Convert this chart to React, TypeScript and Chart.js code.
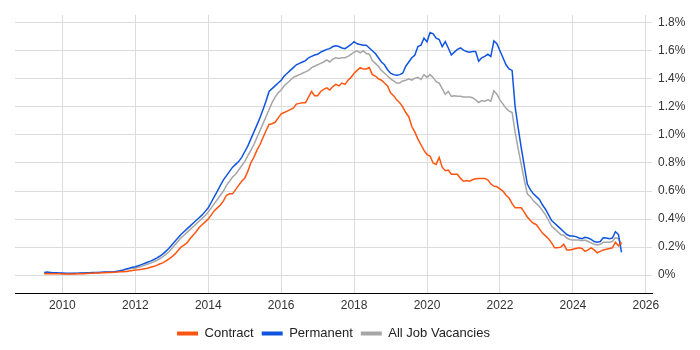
import React, { useEffect, useRef } from "react";
import { Chart, registerables } from "chart.js";

Chart.register(...registerables);

// Monthly observations, Jul 2009 .. May 2025
const startYear = 2009.5;

const contract = [
  // 2009 (Jul-Dec)
  0.01, 0.012, 0.011, 0.01, 0.01, 0.01,
  // 2010
  0.008, 0.008, 0.008, 0.009, 0.009, 0.01, 0.01, 0.011, 0.012, 0.013, 0.014, 0.015,
  // 2011
  0.016, 0.017, 0.018, 0.019, 0.02, 0.021, 0.022, 0.024, 0.025, 0.027, 0.03, 0.033,
  // 2012
  0.037, 0.039, 0.042, 0.046, 0.05, 0.056, 0.062, 0.07, 0.08, 0.088, 0.1, 0.115,
  // 2013
  0.13, 0.15, 0.175, 0.2, 0.215, 0.23, 0.26, 0.285, 0.31, 0.34, 0.36, 0.38,
  // 2014
  0.4, 0.43, 0.46, 0.48, 0.5, 0.53, 0.57, 0.58, 0.58, 0.61, 0.64, 0.67,
  // 2015
  0.69, 0.74, 0.8, 0.84, 0.89, 0.93, 0.98, 1.03, 1.075, 1.08, 1.09, 1.12,
  // 2016
  1.15, 1.16, 1.17, 1.18, 1.19, 1.22, 1.225, 1.23, 1.23, 1.27, 1.31, 1.28,
  // 2017
  1.28, 1.31, 1.325, 1.335, 1.32, 1.345, 1.36, 1.35, 1.37, 1.36, 1.39, 1.41,
  // 2018
  1.44, 1.46, 1.48, 1.47, 1.47, 1.48, 1.43, 1.42, 1.4, 1.39, 1.37, 1.35,
  // 2019
  1.3, 1.28, 1.25, 1.23, 1.2, 1.16, 1.13, 1.06, 1.02, 0.97, 0.93, 0.89,
  // 2020
  0.86, 0.85, 0.8, 0.79, 0.84, 0.77, 0.745, 0.75, 0.72, 0.72, 0.72, 0.69,
  // 2021
  0.67, 0.675, 0.67, 0.68, 0.687, 0.69, 0.69, 0.69, 0.68, 0.65, 0.635, 0.63,
  // 2022
  0.615, 0.6, 0.57, 0.55, 0.51, 0.48, 0.48, 0.48, 0.45, 0.415, 0.39, 0.37,
  // 2023
  0.36, 0.33, 0.3, 0.28, 0.26, 0.23, 0.195, 0.195, 0.2, 0.22, 0.18, 0.18,
  // 2024
  0.185, 0.19, 0.195, 0.19, 0.17, 0.18, 0.195, 0.18, 0.16, 0.17, 0.18, 0.185,
  // 2025 (Jan-May)
  0.19, 0.195, 0.235, 0.21, 0.235,
];

const permanent = [
  0.02, 0.022, 0.02, 0.018, 0.017, 0.016,
  0.015, 0.014, 0.013, 0.013, 0.013, 0.014, 0.015, 0.016, 0.017, 0.018, 0.019, 0.02,
  0.02, 0.021, 0.022, 0.022, 0.023, 0.025, 0.028, 0.032, 0.038, 0.045, 0.05, 0.056,
  0.06, 0.067, 0.075, 0.083, 0.092, 0.1, 0.11, 0.122, 0.135, 0.15, 0.17, 0.19,
  0.215, 0.24, 0.265, 0.29, 0.31, 0.33, 0.35, 0.37, 0.39, 0.41, 0.43, 0.455,
  0.48, 0.52, 0.56, 0.6, 0.64, 0.68, 0.71, 0.74, 0.77, 0.79, 0.81, 0.84,
  0.88, 0.92, 0.97, 1.02, 1.07, 1.12, 1.18, 1.24, 1.31, 1.33, 1.35, 1.37,
  1.39, 1.42, 1.44, 1.46, 1.48, 1.5, 1.51, 1.52, 1.53, 1.55, 1.56, 1.57,
  1.575, 1.59, 1.6, 1.61, 1.615, 1.63, 1.635, 1.63, 1.62, 1.615, 1.63, 1.645,
  1.665, 1.65, 1.645, 1.64, 1.64, 1.62, 1.6, 1.58, 1.55, 1.52, 1.5, 1.465,
  1.44, 1.43, 1.425, 1.43, 1.44, 1.49, 1.52, 1.55, 1.57, 1.63, 1.64, 1.69,
  1.665, 1.73, 1.72, 1.69, 1.68, 1.63, 1.665, 1.62, 1.57, 1.59, 1.61, 1.62,
  1.605, 1.595, 1.59, 1.595, 1.595, 1.525, 1.55, 1.56, 1.575, 1.56, 1.67, 1.65,
  1.6, 1.55, 1.5, 1.47, 1.46, 1.2, 1.05, 0.91, 0.78, 0.65, 0.61, 0.58,
  0.56, 0.54, 0.5, 0.47, 0.43, 0.39, 0.37, 0.35, 0.33, 0.31, 0.29, 0.28,
  0.28, 0.275, 0.265, 0.26, 0.27, 0.265, 0.255, 0.24, 0.235, 0.24, 0.267, 0.265,
  0.26, 0.265, 0.31, 0.29, 0.163,
];

const allJobs = [
  0.015, 0.017, 0.016, 0.015, 0.014, 0.013,
  0.012, 0.011, 0.011, 0.011, 0.012, 0.012, 0.013, 0.014, 0.015, 0.016, 0.017, 0.018,
  0.019, 0.02, 0.021, 0.021, 0.022, 0.024, 0.026, 0.03, 0.034, 0.04, 0.045, 0.05,
  0.05, 0.056, 0.063, 0.07, 0.078, 0.086, 0.095, 0.105, 0.117, 0.13, 0.148, 0.165,
  0.19, 0.215, 0.24, 0.265, 0.285, 0.305, 0.325, 0.345, 0.365, 0.385, 0.405, 0.425,
  0.45, 0.48, 0.51, 0.54, 0.57, 0.6, 0.64, 0.67, 0.7, 0.72, 0.75, 0.78,
  0.81, 0.85, 0.89, 0.93, 0.98, 1.03, 1.08, 1.13, 1.18, 1.23, 1.27, 1.3,
  1.32, 1.35, 1.37, 1.39, 1.41, 1.42, 1.43, 1.44, 1.45, 1.46, 1.48, 1.49,
  1.5, 1.51, 1.52, 1.535, 1.52, 1.54, 1.55, 1.545, 1.55, 1.55, 1.56, 1.575,
  1.59, 1.6, 1.585, 1.6, 1.58, 1.575, 1.53, 1.51, 1.49, 1.46, 1.44, 1.42,
  1.4, 1.385, 1.37, 1.37, 1.385, 1.39, 1.4, 1.39, 1.405, 1.41, 1.395, 1.43,
  1.41, 1.43, 1.41, 1.38, 1.37, 1.33, 1.29, 1.31, 1.275, 1.28, 1.275, 1.275,
  1.27, 1.27, 1.27, 1.265, 1.25, 1.23, 1.245, 1.24, 1.25, 1.24, 1.315, 1.29,
  1.25, 1.22, 1.19, 1.17, 1.16, 1.02, 0.9, 0.79, 0.68, 0.58, 0.56, 0.53,
  0.51, 0.49, 0.46, 0.43, 0.39, 0.35, 0.33, 0.31, 0.29, 0.285, 0.265, 0.255,
  0.25, 0.25, 0.25, 0.245, 0.25, 0.24, 0.23, 0.22, 0.215, 0.22, 0.235, 0.235,
  0.235, 0.24, 0.267, 0.26, 0.215,
];

const xTicks = [2010, 2012, 2014, 2016, 2018, 2020, 2022, 2024, 2026];
const yTicks = [0, 0.2, 0.4, 0.6, 0.8, 1.0, 1.2, 1.4, 1.6, 1.8];

const seriesNames = ["Contract", "Permanent", "All Job Vacancies"];
const seriesColors = ["#FF5511", "#0F55E0", "#A6A6A6"];

const FONT = "'Liberation Sans', Arial, sans-serif";

function toPoints(values: number[]) {
  return values.map((v, i) => ({ x: startYear + i / 12, y: v }));
}

export default function App() {
  const ref = useRef<HTMLCanvasElement | null>(null);

  useEffect(() => {
    if (!ref.current) return;
    const seriesValues = [contract, permanent, allJobs];
    const chart = new Chart(ref.current, {
      type: "line",
      data: {
        datasets: seriesNames.map((name, k) => ({
          label: name,
          data: toPoints(seriesValues[k]),
          borderColor: seriesColors[k],
          backgroundColor: seriesColors[k],
          borderWidth: 1.5,
          pointRadius: 0,
          tension: 0,
          fill: false,
        })),
      },
      options: {
        animation: false,
        responsive: false,
        maintainAspectRatio: false,
        layout: { padding: { left: 15, top: 15, right: 0, bottom: 0 } },
        plugins: {
          tooltip: { enabled: false },
          legend: {
            position: "bottom",
            fullSize: false,
            labels: {
              boxWidth: 21,
              boxHeight: 4,
              padding: 8,
              color: "#222",
              font: { family: FONT, size: 13 },
              generateLabels: (c: any) =>
                Chart.defaults.plugins.legend.labels
                  .generateLabels(c)
                  .map((l: any) => ({ ...l, lineWidth: 0 })),
            },
          },
        },
        scales: {
          x: {
            type: "linear",
            min: 2008.7,
            max: 2026.17,
            afterBuildTicks: (s: any) => {
              s.ticks = xTicks.map((v) => ({ value: v }));
            },
            afterFit: (s: any) => {
              s.height = 26;
            },
            grid: { color: "#dcdcdc", drawTicks: false, lineWidth: 1 },
            border: { display: true, color: "#000", width: 1 },
            ticks: {
              padding: 5,
              color: "#333",
              font: { family: FONT, size: 12 },
              maxRotation: 0,
              autoSkip: false,
              callback: (v: any) => String(v),
            },
          },
          y: {
            type: "linear",
            position: "right",
            min: -0.127,
            max: 1.855,
            afterBuildTicks: (s: any) => {
              s.ticks = yTicks.map((v) => ({ value: v }));
            },
            afterFit: (s: any) => {
              s.width = 48;
            },
            grid: { color: "#dcdcdc", drawTicks: false, lineWidth: 1 },
            border: { display: false },
            ticks: {
              padding: 6,
              color: "#333",
              font: { family: FONT, size: 12 },
              autoSkip: false,
              callback: (v: any) => (v === 0 ? "0%" : Number(v).toFixed(1) + "%"),
            },
          },
        },
      },
    } as any);
    return () => chart.destroy();
  }, []);

  return (
    <div style={{ position: "fixed", left: 0, top: 0, width: 700, height: 350, background: "#fff" }}>
      <canvas ref={ref} width={700} height={350} style={{ width: 700, height: 350 }} />
    </div>
  );
}
